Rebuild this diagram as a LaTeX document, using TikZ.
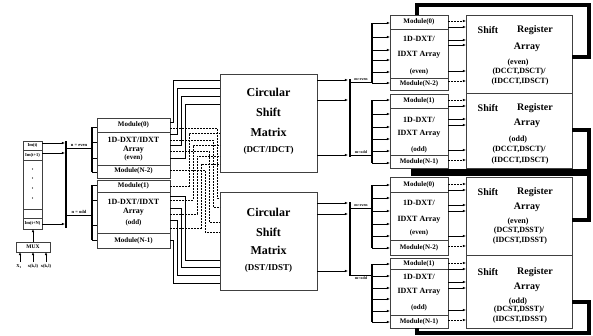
\documentclass[tikz,border=0pt]{standalone}
\usepackage{fontspec}
\setmainfont{Liberation Serif}
\usetikzlibrary{arrows.meta}
\begin{document}
\begin{tikzpicture}[x=1pt,y=-1pt,
 box/.style={draw=black!75, line width=0.7pt, rectangle, inner sep=0pt, outer sep=0pt, anchor=north west},
 divl/.style={draw=black!75, line width=0.6pt},
 wire/.style={line width=0.6pt},
 dwire/.style={line width=0.6pt, dash pattern=on 1.8pt off 1.2pt},
 arr/.style={wire, -{Latex[length=3.2pt,width=2.6pt]}},
 darr/.style={dwire, -{Latex[length=3.2pt,width=2.6pt]}},
 bus/.style={line width=1.5pt},
 fb/.style={line width=4.5pt, line join=miter},
 tiny/.style={font=\fontsize{4.5}{5}\selectfont\bfseries, inner sep=0pt},
 modl/.style={font=\fontsize{7}{8}\selectfont\bfseries, inner sep=0pt},
 arrl/.style={font=\fontsize{8}{9}\selectfont\bfseries, inner sep=0pt},
 big/.style={font=\fontsize{12}{13}\selectfont\bfseries, inner sep=0pt},
 mid/.style={font=\fontsize{9}{10}\selectfont\bfseries, inner sep=0pt},
 srl/.style={font=\fontsize{10}{11}\selectfont\bfseries, inner sep=0pt},
 srs/.style={font=\fontsize{8}{9}\selectfont\bfseries, inner sep=0pt},
]
\useasboundingbox (0,0) rectangle (593,335);

% ---------- input register ----------
\node[box, minimum width=19pt, minimum height=88pt] (reg) at (23,141) {};
\foreach \yy in {150,160,209,218} \draw[divl] (reg.west |- 0,\yy) -- (reg.east |- 0,\yy);
\node[tiny] (im0) at (32.5,145.5) {Im(t)};
\node[tiny] (im1) at (32.5,155) {Im(t+1)};
\foreach \yy in {169,178,188,198} \fill (32.5,\yy) circle (0.6pt);
\node[tiny] (imn) at (32.5,223.5) {Im(t+N)};
\coordinate (rb1) at (66,141);
\coordinate (rb2) at (66,228);
\draw[bus] (rb1) -- (rb2);
\foreach \yy in {143,153,224} \draw[arr] (reg.east |- 0,\yy) -- (65,\yy);
\draw[wire] (66,148) -- (92,148);
\draw[wire] (66,215) -- (92,215);
\node[tiny] (neven) at (79,145) {n = even};
\node[tiny] (nodd) at (79,212) {n = odd};

% MUX
\node[box, minimum width=34pt, minimum height=10pt] (mux) at (16,242) {};
\node[tiny, font=\fontsize{5.5}{6}\selectfont\bfseries] (muxt) at (mux.center) {MUX};
\draw[arr] (mux.north) -- (mux.north |- reg.south);
\foreach \xx in {20,33,46} \draw[arr] (\xx,262) -- (\xx,252);
\node[tiny] (x1) at (19,266.5) {X$_{\mathbf 1}$};
\node[tiny] (x2) at (33,266.5) {x(k,l)};
\node[tiny] (x3) at (46,266.5) {x(k,l)};

% ---------- left module arrays ----------
\node[box, minimum width=73pt, minimum height=60pt] (ue) at (97,118) {};
\foreach \yy in {132,165} \draw[divl] (ue.west |- 0,\yy) -- (ue.east |- 0,\yy);
\node[box, minimum width=73pt, minimum height=68pt] (lo) at (97,180) {};
\foreach \yy in {192,233} \draw[divl] (lo.west |- 0,\yy) -- (lo.east |- 0,\yy);
\draw[bus] (92,127) -- (92,172);
\foreach \yy in {127,142,158,172} \draw[wire] (92,\yy) -- (ue.west |- 0,\yy);
\draw[bus] (92,185) -- (92,240);
\foreach \yy in {185,200,225,240} \draw[wire] (92,\yy) -- (lo.west |- 0,\yy);

\node[modl] (ue1) at (133.5,125) {Module(0)};
\node[arrl] (ue2) at (133.5,140) {1D-DXT/IDXT};
\node[arrl] (ue3) at (133.5,149.5) {Array};
\node[modl] (ue4) at (133.5,158) {(even)};
\node[modl] (ue5) at (133.5,171) {Module(N-2)};
\node[modl] (lo1) at (133.5,186) {Module(1)};
\node[arrl] (lo2) at (133.5,202) {1D-DXT/IDXT};
\node[arrl] (lo3) at (133.5,212) {Array};
\node[modl] (lo4) at (133.5,223) {(odd)};
\node[modl] (lo5) at (133.5,240.5) {Module(N-1)};

% ---------- circular shift matrices ----------
\node[box, minimum width=97pt, minimum height=98pt] (cu) at (220,74) {};
\node[box, minimum width=97pt, minimum height=98pt] (cl) at (220,192) {};
\node[big] (cu1) at (268.5,92) {Circular};
\node[big] (cu2) at (268.5,112) {Shift};
\node[big] (cu3) at (268.5,132) {Matrix};
\node[mid] (cu4) at (268.5,150) {(DCT/IDCT)};
\node[big] (cl1) at (268.5,212) {Circular};
\node[big] (cl2) at (268.5,232) {Shift};
\node[big] (cl3) at (268.5,250) {Matrix};
\node[mid] (cl4) at (268.5,268) {(DST/IDST)};

% solid: even array -> upper matrix
\draw[wire] (ue.east |- 0,122) -| (173,80) -- (cu.west |- 0,80);
\draw[wire] (ue.east |- 0,134) -| (177,88) -- (cu.west |- 0,88);
\draw[wire] (ue.east |- 0,145) -| (181,96) -- (cu.west |- 0,96);
\draw[wire] (ue.east |- 0,158) -| (185,104) -- (cu.west |- 0,104);
% solid: odd array -> lower matrix
\draw[wire] (lo.east |- 0,196) -| (185,260) -- (cl.west |- 0,260);
\draw[wire] (lo.east |- 0,208) -| (181,267) -- (cl.west |- 0,267);
\draw[wire] (lo.east |- 0,220) -| (177,275) -- (cl.west |- 0,275);
\draw[wire] (lo.east |- 0,240) -| (173,283) -- (cl.west |- 0,283);
% dashed: odd array -> upper matrix
\draw[dwire] (lo.east |- 0,186) -| (189,133) -- (cu.west |- 0,133);
\draw[dwire] (lo.east |- 0,200) -| (193,145) -- (cu.west |- 0,145);
\draw[dwire] (lo.east |- 0,214) -| (197,156) -- (cu.west |- 0,156);
\draw[dwire] (lo.east |- 0,228) -| (201,164) -- (cu.west |- 0,164);
% dashed: even array -> lower matrix
\draw[dwire] (ue.east |- 0,128) -| (217,198) -- (cl.west |- 0,198);
\draw[dwire] (ue.east |- 0,140) -| (213,207) -- (cl.west |- 0,207);
\draw[dwire] (ue.east |- 0,151) -| (209,222) -- (cl.west |- 0,222);
\draw[dwire] (ue.east |- 0,170) -| (205,232) -- (cl.west |- 0,232);

% ---------- matrix outputs ----------
\foreach \yy in {80,100,155} \draw[arr] (cu.east |- 0,\yy) -- (348,\yy);
\draw[bus] (350,79) -- (350,157);
\draw[wire] (350,82) -- (372,82);
\draw[wire] (350,155) -- (372,155);
\node[tiny, font=\fontsize{4}{5}\selectfont\bfseries] (me1) at (361,79.5) {m=even};
\node[tiny, font=\fontsize{4}{5}\selectfont\bfseries] (mo1) at (361,152.5) {m=odd};
\foreach \yy in {203,214,271} \draw[arr] (cl.east |- 0,\yy) -- (348,\yy);
\draw[bus] (350,202) -- (350,276);
\draw[wire] (350,208) -- (372,208);
\draw[wire] (350,275) -- (372,275);
\node[tiny, font=\fontsize{4}{5}\selectfont\bfseries] (me2) at (361,205.5) {m=even};
\node[tiny, font=\fontsize{4}{5}\selectfont\bfseries] (mo2) at (361,278.5) {m=odd};

% ---------- right module arrays ----------
\node[box, minimum width=58pt, minimum height=75pt] (r1) at (390,15) {};
\foreach \yy in {29,78} \draw[divl] (r1.west |- 0,\yy) -- (r1.east |- 0,\yy);
\node[box, minimum width=58pt, minimum height=74pt] (r2) at (390,94) {};
\foreach \yy in {108,155} \draw[divl] (r2.west |- 0,\yy) -- (r2.east |- 0,\yy);
\node[box, minimum width=58pt, minimum height=78pt] (r3) at (390,177) {};
\foreach \yy in {192,240} \draw[divl] (r3.west |- 0,\yy) -- (r3.east |- 0,\yy);
\node[box, minimum width=58pt, minimum height=70pt] (r4) at (390,258) {};
\foreach \yy in {269,315} \draw[divl] (r4.west |- 0,\yy) -- (r4.east |- 0,\yy);

\draw[bus] (372,23) -- (372,83);
\foreach \yy in {23,37,50,60,72,83} \draw[arr] (372,\yy) -- (r1.west |- 0,\yy);
\draw[bus] (372,100) -- (372,163);
\foreach \yy in {100,114,127,139,151,163} \draw[arr] (372,\yy) -- (r2.west |- 0,\yy);
\draw[bus] (372,185) -- (372,248);
\foreach \yy in {185,198,211,224,236,248} \draw[arr] (372,\yy) -- (r3.west |- 0,\yy);
\draw[bus] (372,264) -- (372,322);
\foreach \yy in {264,276,288,299,311,322} \draw[arr] (372,\yy) -- (r4.west |- 0,\yy);

\node[modl] (r1a) at (419,22) {Module(0)};
\node[arrl] (r1b) at (419,39) {1D-DXT/};
\node[arrl] (r1c) at (419,55) {IDXT Array};
\node[modl] (r1d) at (419,72) {(even)};
\node[modl] (r1e) at (419,84) {Module(N-2)};
\node[modl] (r2a) at (419,101) {Module(1)};
\node[arrl] (r2b) at (419,120) {1D-DXT/};
\node[arrl] (r2c) at (419,134) {IDXT Array};
\node[modl] (r2d) at (419,150) {(odd)};
\node[modl] (r2e) at (419,162) {Module(N-1)};
\node[modl] (r3a) at (419,185) {Module(0)};
\node[arrl] (r3b) at (419,203) {1D-DXT/};
\node[arrl] (r3c) at (419,220) {IDXT Array};
\node[modl] (r3d) at (419,233) {(even)};
\node[modl] (r3e) at (419,248) {Module(N-2)};
\node[modl] (r4a) at (419,264) {Module(1)};
\node[arrl] (r4b) at (419,277) {1D-DXT/};
\node[arrl] (r4c) at (419,292) {IDXT Array};
\node[modl] (r4d) at (419,308) {(odd)};
\node[modl] (r4e) at (419,322) {Module(N-1)};

% ---------- shift register arrays ----------
\node[box, minimum width=106pt, minimum height=78pt] (s1) at (466,15) {};
\node[box, minimum width=106pt, minimum height=75pt] (s2) at (466,93) {};
\node[box, minimum width=106pt, minimum height=78pt] (s3) at (466,177) {};
\node[box, minimum width=106pt, minimum height=73pt] (s4) at (466,255) {};

\node[srl] (s1a) at (488,30) {Shift};
\node[srl] (s1b) at (535,30) {Register};
\node[srl] (s1c) at (527,47) {Array};
\node[srs] (s1d) at (518,63) {(even)};
\node[srs] (s1e) at (519,72) {(DCCT,DSCT)/};
\node[srs] (s1f) at (520,82) {(IDCCT,IDSCT)};
\node[srl] (s2a) at (488,108) {Shift};
\node[srl] (s2b) at (535,108) {Register};
\node[srl] (s2c) at (527,123) {Array};
\node[srs] (s2d) at (518,140) {(odd)};
\node[srs] (s2e) at (519,150) {(DCCT,DSCT)/};
\node[srs] (s2f) at (520,161) {(IDCCT,IDSCT)};
\node[srl] (s3a) at (488,192) {Shift};
\node[srl] (s3b) at (535,192) {Register};
\node[srl] (s3c) at (527,207) {Array};
\node[srs] (s3d) at (518,222) {(even)};
\node[srs] (s3e) at (519,231) {(DCST,DSST)/};
\node[srs] (s3f) at (520,241) {(IDCST,IDSST)};
\node[srl] (s4a) at (488,272) {Shift};
\node[srl] (s4b) at (535,272) {Register};
\node[srl] (s4c) at (527,287) {Array};
\node[srs] (s4d) at (518,302) {(odd)};
\node[srs] (s4e) at (519,310) {(DCST,DSST)/};
\node[srs] (s4f) at (520,320) {(IDCST,IDSST)};

% module array -> shift register arrows
\foreach \yy/\st in {21/darr,27/arr,40/arr,45/arr,71/arr,81/darr} \draw[\st] (r1.east |- 0,\yy) -- (s1.west |- 0,\yy);
\foreach \yy/\st in {100/darr,106/arr,119/arr,125/arr,150/arr,160/darr} \draw[\st] (r2.east |- 0,\yy) -- (s2.west |- 0,\yy);
\foreach \yy/\st in {184/darr,190/arr,205/arr,211/arr,236/arr,246/darr} \draw[\st] (r3.east |- 0,\yy) -- (s3.west |- 0,\yy);
\foreach \yy/\st in {263/darr,269/arr,282/arr,288/arr,310/arr,320/darr} \draw[\st] (r4.east |- 0,\yy) -- (s4.west |- 0,\yy);

% ---------- feedback loops ----------
\draw[fb] (s1.east |- 0,57) -- (589,57) -- (589,5) -- (417,5) -- (417,15);
\draw[fb] (s2.east |- 0,130) -- (589,130) -- (589,220) -- (s3.east |- 0,220);
\draw[line width=7pt] (589,172.5) -- (411,172.5);
\draw[fb] (s4.east |- 0,302) -- (589,302) -- (589,333) -- (417,333) -- (417,328);
\end{tikzpicture}
\end{document}
